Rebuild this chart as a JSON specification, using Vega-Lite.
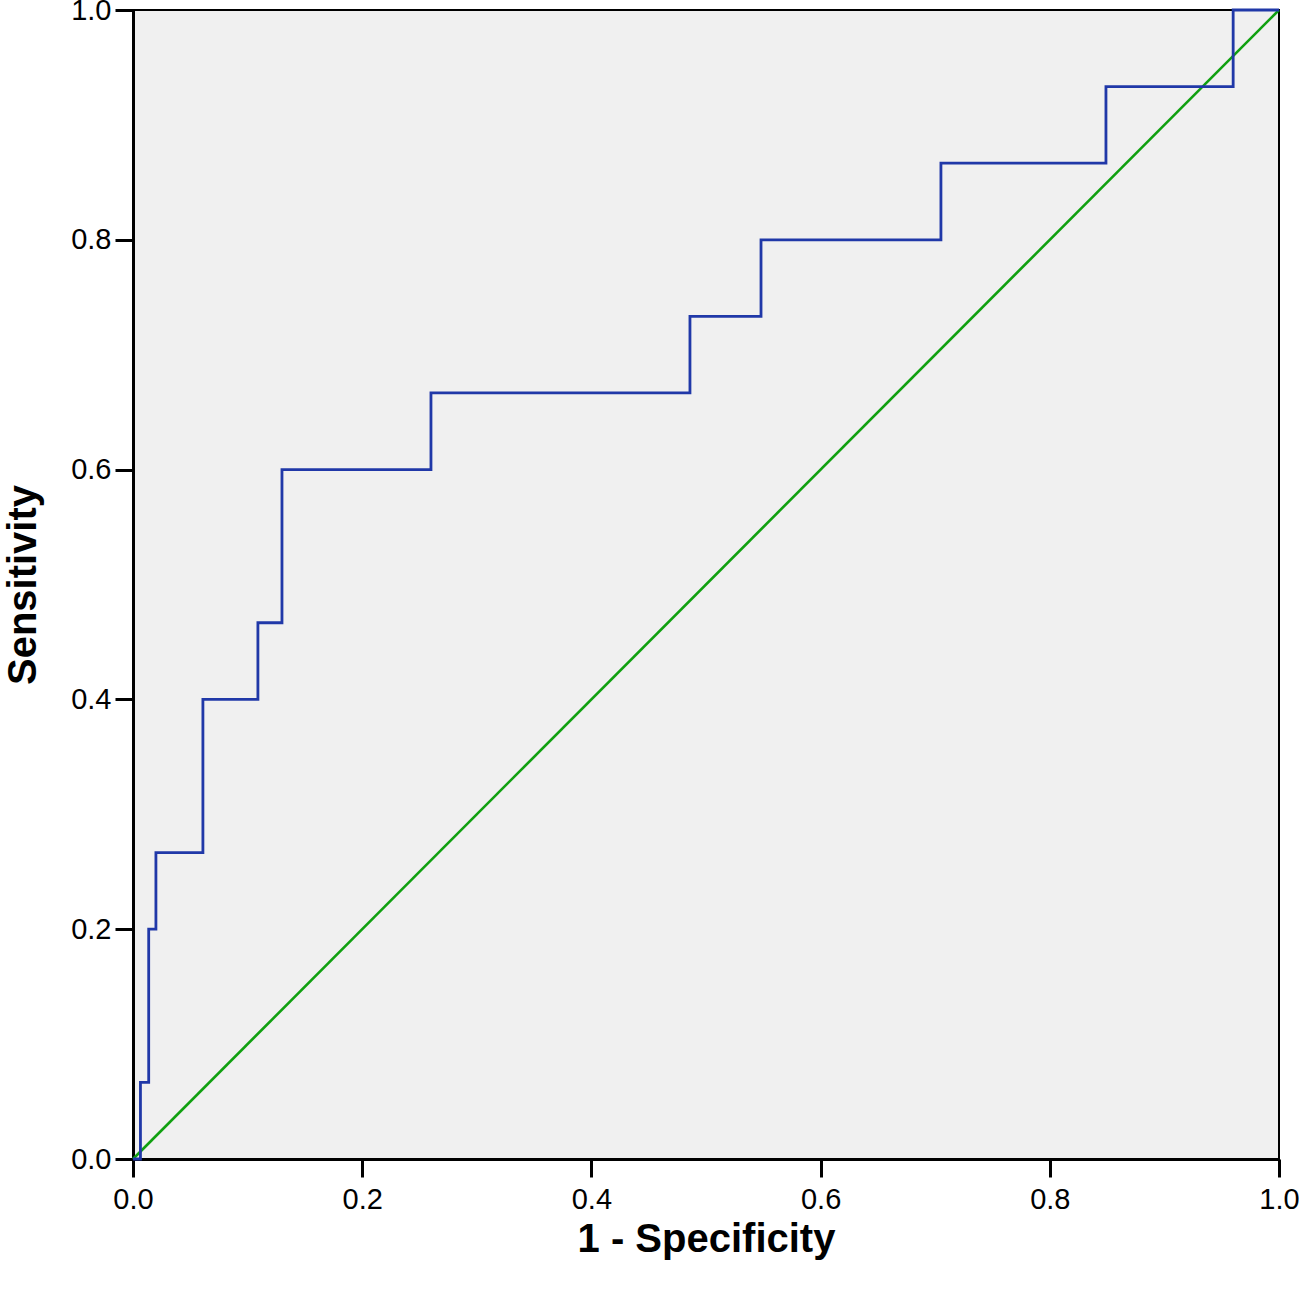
{
  "$schema": "https://vega.github.io/schema/vega-lite/v6.json",
  "width": 1146,
  "height": 1149,
  "autosize": {"type": "none"},
  "padding": {"left": 133, "top": 10, "right": 20, "bottom": 132},
  "background": "white",
  "config": {
    "view": {"fill": "#f0f0f0", "stroke": "black", "strokeWidth": 2},
    "font": "Liberation Sans"
  },
  "datasets": {
    "roc": [
      {"ord": 0, "fpr": 0.0, "sens": 0.0},
      {"ord": 1, "fpr": 0.0065, "sens": 0.0},
      {"ord": 2, "fpr": 0.0065, "sens": 0.0667},
      {"ord": 3, "fpr": 0.0137, "sens": 0.0667},
      {"ord": 4, "fpr": 0.0137, "sens": 0.2},
      {"ord": 5, "fpr": 0.0200, "sens": 0.2},
      {"ord": 6, "fpr": 0.0200, "sens": 0.2667},
      {"ord": 7, "fpr": 0.061, "sens": 0.2667},
      {"ord": 8, "fpr": 0.061, "sens": 0.4},
      {"ord": 9, "fpr": 0.109, "sens": 0.4},
      {"ord": 10, "fpr": 0.109, "sens": 0.4667},
      {"ord": 11, "fpr": 0.130, "sens": 0.4667},
      {"ord": 12, "fpr": 0.130, "sens": 0.6},
      {"ord": 13, "fpr": 0.260, "sens": 0.6},
      {"ord": 14, "fpr": 0.260, "sens": 0.6667},
      {"ord": 15, "fpr": 0.486, "sens": 0.6667},
      {"ord": 16, "fpr": 0.486, "sens": 0.7333},
      {"ord": 17, "fpr": 0.548, "sens": 0.7333},
      {"ord": 18, "fpr": 0.548, "sens": 0.8},
      {"ord": 19, "fpr": 0.705, "sens": 0.8},
      {"ord": 20, "fpr": 0.705, "sens": 0.8667},
      {"ord": 21, "fpr": 0.849, "sens": 0.8667},
      {"ord": 22, "fpr": 0.849, "sens": 0.9333},
      {"ord": 23, "fpr": 0.960, "sens": 0.9333},
      {"ord": 24, "fpr": 0.960, "sens": 1.0},
      {"ord": 25, "fpr": 1.0, "sens": 1.0}
    ],
    "diag": [
      {"ord": 0, "fpr": 0.0, "sens": 0.0},
      {"ord": 1, "fpr": 1.0, "sens": 1.0}
    ]
  },
  "encoding": {
    "x": {
      "field": "fpr", "type": "quantitative",
      "scale": {"domain": [0, 1], "nice": false},
      "axis": {
        "title": "1 - Specificity",
        "values": [0, 0.2, 0.4, 0.6, 0.8, 1.0],
        "format": ".1f",
        "grid": false,
        "labelFlush": false,
        "domainColor": "black", "domainWidth": 3,
        "tickColor": "black", "tickWidth": 3, "tickSize": 18,
        "labelColor": "black", "labelFontSize": 29, "labelPadding": 8,
        "labelFont": "Liberation Sans",
        "titleFont": "Liberation Sans", "titleFontSize": 40, "titleFontWeight": "bold",
        "titleColor": "black", "titlePadding": 5
      }
    },
    "y": {
      "field": "sens", "type": "quantitative",
      "scale": {"domain": [0, 1], "nice": false},
      "axis": {
        "title": "Sensitivity",
        "values": [0, 0.2, 0.4, 0.6, 0.8, 1.0],
        "format": ".1f",
        "grid": false,
        "labelFlush": false,
        "domainColor": "black", "domainWidth": 3,
        "tickColor": "black", "tickWidth": 3, "tickSize": 18,
        "labelColor": "black", "labelFontSize": 29, "labelPadding": 4,
        "labelFont": "Liberation Sans",
        "titleFont": "Liberation Sans", "titleFontSize": 40, "titleFontWeight": "bold",
        "titleColor": "black", "titlePadding": 27
      }
    },
    "order": {"field": "ord", "type": "quantitative"}
  },
  "layer": [
    {
      "data": {"name": "diag"},
      "mark": {"type": "line", "color": "#10a010", "strokeWidth": 2.6}
    },
    {
      "data": {"name": "roc"},
      "mark": {"type": "line", "color": "#2038a8", "strokeWidth": 2.8, "strokeJoin": "miter"}
    }
  ]
}
